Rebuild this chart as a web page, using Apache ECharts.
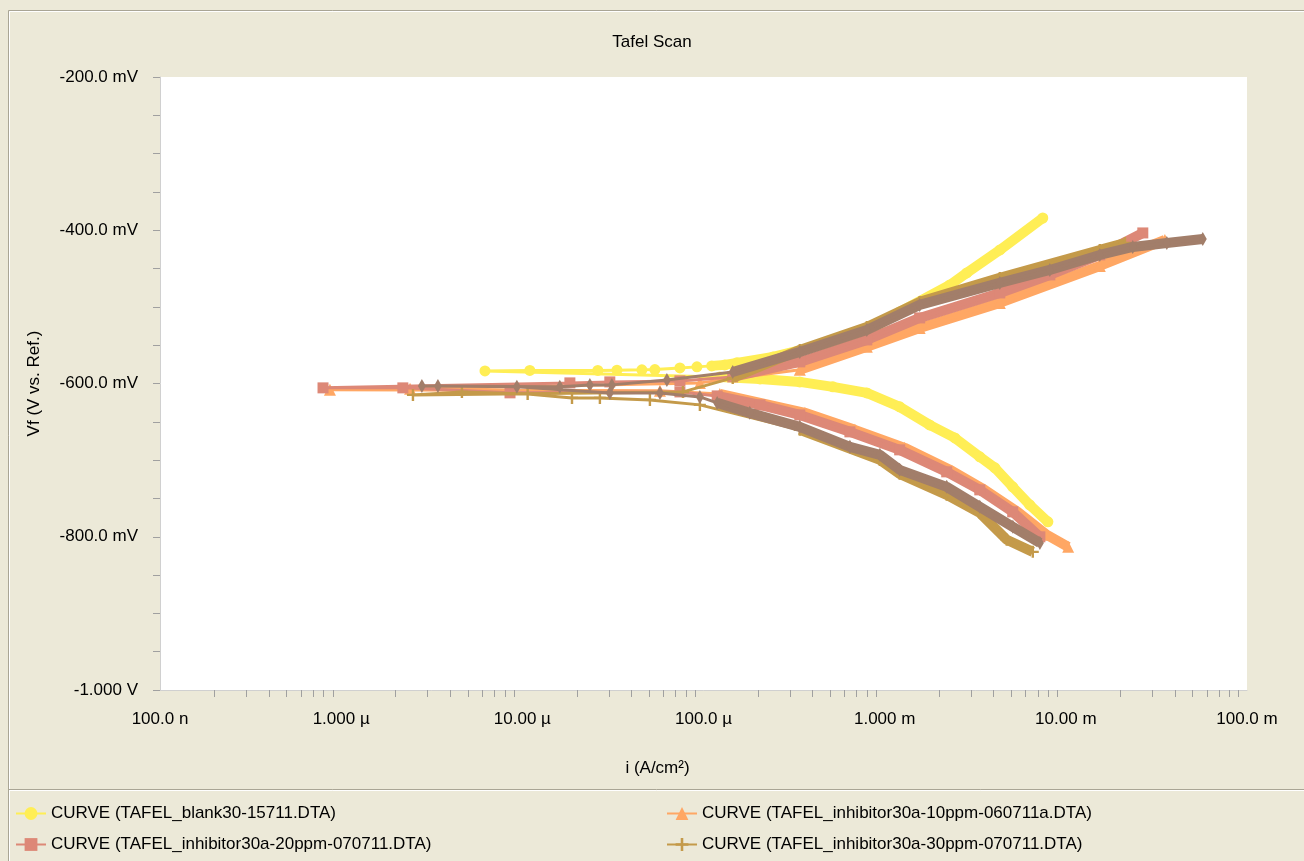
<!doctype html>
<html>
<head>
  <meta charset="utf-8">
  <title>Tafel Scan</title>
  <script src="https://cdn.jsdelivr.net/npm/echarts@6/dist/echarts.min.js"></script>
  <style>
    html, body { margin: 0; padding: 0; background: #ECE9D8; }
    #main { width: 1304px; height: 861px; }
  </style>
</head>
<body>
<div id="main"></div>
<script>
// tick labels
var xTickLabels = ['100.0 n', '1.000 \u00b5', '10.00 \u00b5', '100.0 \u00b5', '1.000 m', '10.00 m', '100.0 m'];
var yTickLabels = ['-1.000 V', '-800.0 mV', '-600.0 mV', '-400.0 mV', '-200.0 mV'];

var seriesNames = [
  'CURVE (TAFEL_blank30-15711.DTA)',
  'CURVE (TAFEL_inhibitor30a-10ppm-060711a.DTA)',
  'CURVE (TAFEL_inhibitor30a-20ppm-070711.DTA)',
  'CURVE (TAFEL_inhibitor30a-30ppm-070711.DTA)',
  'CURVE'
];

// [i (A/cm2), Vf (V)], cathodic end -> anodic end
var blankData = [
  [7.96e-3,-0.7805],[6.32e-3,-0.7584],[5.09e-3,-0.7349],[4.06e-3,-0.7101],[3.35e-3,-0.6957],
  [2.44e-3,-0.6710],[1.77e-3,-0.6540],[1.21e-3,-0.6305],[7.97e-4,-0.6123],[5.18e-4,-0.6044],
  [3.40e-4,-0.5979],[2.05e-4,-0.5940],[1.23e-4,-0.5914],[6.22e-6,-0.5836],[1.10e-5,-0.5829],
  [2.61e-5,-0.5829],[3.33e-5,-0.5826],[4.57e-5,-0.5822],[5.39e-5,-0.5818],[7.41e-5,-0.5797],
  [9.20e-5,-0.5783],[1.11e-4,-0.5770],[1.31e-4,-0.5757],[1.53e-4,-0.5730],[2.42e-4,-0.5653],
  [4.99e-4,-0.5470],[8.28e-4,-0.5301],[1.21e-3,-0.5066],[2.29e-3,-0.4714],[2.84e-3,-0.4557],
  [4.33e-3,-0.4257],[7.46e-3,-0.3840]
];
var ppm10Data = [
  [1.03e-2,-0.8132],[7.86e-3,-0.7975],[5.43e-3,-0.7675],[3.57e-3,-0.7388],[2.35e-3,-0.7140],
  [1.29e-3,-0.6840],[6.85e-4,-0.6605],[3.63e-4,-0.6383],[1.23e-4,-0.6136],[5.75e-5,-0.6096],
  [8.67e-7,-0.6083],[2.40e-6,-0.6070],[9.55e-5,-0.5992],[3.40e-4,-0.5822],[7.97e-4,-0.5522],
  [1.56e-3,-0.5275],[4.32e-3,-0.4948],[1.54e-2,-0.4466],[3.52e-2,-0.4127]
];
var ppm20Data = [
  [7.19e-3,-0.8001],[5.09e-3,-0.7675],[3.35e-3,-0.7388],[2.20e-3,-0.7153],[1.21e-3,-0.6866],
  [6.43e-4,-0.6631],[3.40e-4,-0.6410],[2.05e-4,-0.6279],[1.19e-4,-0.6162],[7.41e-5,-0.6110],
  [8.55e-6,-0.6122],[2.19e-6,-0.6057],[7.94e-7,-0.6057],[1.83e-5,-0.5992],[3.04e-5,-0.5979],
  [7.41e-5,-0.5966],[1.45e-4,-0.5914],[3.40e-4,-0.5718],[7.97e-4,-0.5431],[1.56e-3,-0.5144],
  [4.32e-3,-0.4818],[8.16e-3,-0.4583],[1.54e-2,-0.4322],[2.66e-2,-0.4035]
];
var ppm30Data = [
  [6.57e-3,-0.8197],[4.72e-3,-0.8040],[3.35e-3,-0.7688],[2.20e-3,-0.7453],[1.21e-3,-0.7179],
  [9.41e-4,-0.6997],[3.40e-4,-0.6605],[9.55e-5,-0.6279],[5.06e-5,-0.6214],[2.68e-5,-0.6188],
  [1.88e-5,-0.6188],[1.07e-5,-0.6136],[4.64e-6,-0.6110],[2.49e-6,-0.6149],[7.70e-5,-0.6110],
  [1.45e-4,-0.5927],[3.40e-4,-0.5562],[7.97e-4,-0.5262],[1.56e-3,-0.4935],[4.32e-3,-0.4622],
  [1.54e-2,-0.4257],[2.12e-2,-0.4166]
];
var extraData = [
  [7.19e-3,-0.8080],[5.10e-3,-0.7871],[3.35e-3,-0.7610],[2.20e-3,-0.7349],[1.21e-3,-0.7127],
  [9.41e-4,-0.6931],[6.43e-4,-0.6827],[3.40e-4,-0.6566],[1.80e-4,-0.6383],[1.19e-4,-0.6253],
  [9.55e-5,-0.6175],[5.75e-5,-0.6123],[3.04e-5,-0.6123],[9.33e-6,-0.6044],[3.42e-6,-0.6031],
  [2.79e-6,-0.6031],[1.61e-5,-0.6044],[2.36e-5,-0.6018],[3.12e-5,-0.6018],[6.28e-5,-0.5953],
  [1.45e-4,-0.5849],[3.40e-4,-0.5588],[7.97e-4,-0.5301],[1.56e-3,-0.4974],[4.32e-3,-0.4687],
  [8.16e-3,-0.4518],[1.54e-2,-0.4322],[2.34e-2,-0.4218],[3.61e-2,-0.4166],[5.70e-2,-0.4113]
];

var colors = ['#FFEE55', '#FFA764', '#DD8877', '#C49A4A', '#A27E6A'];
var symbols = ['circle', 'triangle', 'rect', 'path://M0,4H10V6H0Z M4,0H6V10H4Z', 'diamond'];
var symbolSizes = [11, 12, 11, 12, [8, 14]];
var allData = [blankData, ppm10Data, ppm20Data, ppm30Data, extraData];
// the dense Tafel branches draw as a thick band above this current
var bandFrom = 1e-4;

// decade exponents for the label axis, plus 2..9 minor ticks in each decade
var decades = [-7, -6, -5, -4, -3, -2, -1];
var minorTicks = [];
for (var d = -7; d < -1; d++) {
  for (var k = 2; k <= 9; k++) minorTicks.push(d + Math.log10(k));
}

var font = 'Liberation Sans';
var txt = { fontFamily: font, fontSize: 17, color: '#000' };

var myChart = echarts.init(document.getElementById('main'));
var series = [];
allData.forEach(function (data, n) {
  // thin line with markers through every point
  series.push({
    name: seriesNames[n],
    type: 'line',
    data: data,
    symbol: symbols[n],
    symbolSize: symbolSizes[n],
    showSymbol: true,
    lineStyle: { width: 3, color: colors[n] },
    itemStyle: { color: colors[n] },
    z: 3 + n * 2
  });
  // thick band along the branches
  series.push({
    name: seriesNames[n],
    type: 'line',
    data: data.map(function (p) { return p[0] >= bandFrom ? p : [p[0], null]; }),
    showSymbol: false,
    connectNulls: false,
    lineStyle: { width: 10, color: colors[n] },
    itemStyle: { color: colors[n] },
    z: 2 + n * 2
  });
});

var option = {
  animation: false,
  backgroundColor: '#ECE9D8',
  title: {
    text: 'Tafel Scan',
    left: 'center',
    top: 29,
    textStyle: { fontFamily: font, fontSize: 17, fontWeight: 'normal', color: '#000' }
  },
  legend: [
    {
      data: [seriesNames[0], seriesNames[2]],
      orient: 'vertical',
      left: 10, top: 800, itemGap: 14, itemWidth: 30, itemHeight: 16,
      textStyle: txt
    },
    {
      data: [seriesNames[1], seriesNames[3]],
      orient: 'vertical',
      left: 661, top: 800, itemGap: 14, itemWidth: 30, itemHeight: 16,
      textStyle: txt
    }
  ],
  grid: {
    left: 160, top: 77, right: 57, bottom: 171,
    show: true, backgroundColor: '#FFFFFF', borderWidth: 0
  },
  xAxis: [
    {
      type: 'log', logBase: 10, min: 1e-7, max: 1e-1,
      position: 'bottom',
      axisLine: { show: true, lineStyle: { color: '#D0D0D0', width: 1 } },
      axisTick: { show: false },
      axisLabel: { show: false },
      splitLine: { show: false },
      minorTick: { show: false }
    },
    {
      type: 'value', min: -7, max: -1, interval: 1,
      position: 'bottom',
      name: 'i (A/cm\u00b2)',
      nameLocation: 'middle',
      nameGap: 70,
      nameTextStyle: { fontFamily: font, fontSize: 17, color: '#000', padding: [0, 92, 0, 0] },
      axisLine: { show: false },
      axisTick: { show: true, customValues: minorTicks, length: 7, lineStyle: { color: '#A0A0A0' } },
      axisLabel: {
        customValues: decades,
        margin: 21,
        fontFamily: font, fontSize: 17, color: '#000',
        formatter: function (v) { return xTickLabels[Math.round(v) + 7]; }
      },
      splitLine: { show: false }
    }
  ],
  yAxis: {
    type: 'value', min: -1.0, max: -0.2, interval: 0.2,
    name: 'Vf (V vs. Ref.)',
    nameLocation: 'middle',
    nameGap: 117,
    nameTextStyle: { fontFamily: font, fontSize: 17, color: '#000' },
    axisLine: { show: true, lineStyle: { color: '#D0D0D0', width: 1 } },
    axisTick: { show: true, length: 7, lineStyle: { color: '#A0A0A0' } },
    minorTick: { show: true, splitNumber: 4, length: 7, lineStyle: { color: '#A0A0A0' } },
    axisLabel: {
      margin: 22,
      fontFamily: font, fontSize: 17, color: '#000',
      formatter: function (v) { return yTickLabels[Math.round((v + 1.0) / 0.2)]; }
    },
    splitLine: { show: false }
  },
  graphic: [
    { type: 'polyline', shape: { points: [[8.5, 861], [8.5, 10.5], [1304, 10.5]] }, style: { stroke: '#A9A595', fill: null, lineWidth: 1 }, silent: true },
    { type: 'polyline', shape: { points: [[9.5, 861], [9.5, 11.5], [1304, 11.5]] }, style: { stroke: '#FFFFFF', fill: null, lineWidth: 1 }, silent: true },
    { type: 'line', shape: { x1: 9, y1: 789.5, x2: 1304, y2: 789.5 }, style: { stroke: '#A9A595', lineWidth: 1 }, silent: true },
    { type: 'line', shape: { x1: 9, y1: 790.5, x2: 1304, y2: 790.5 }, style: { stroke: '#FFFFFF', lineWidth: 1 }, silent: true }
  ],
  series: series
};
myChart.setOption(option);
</script>
</body>
</html>
